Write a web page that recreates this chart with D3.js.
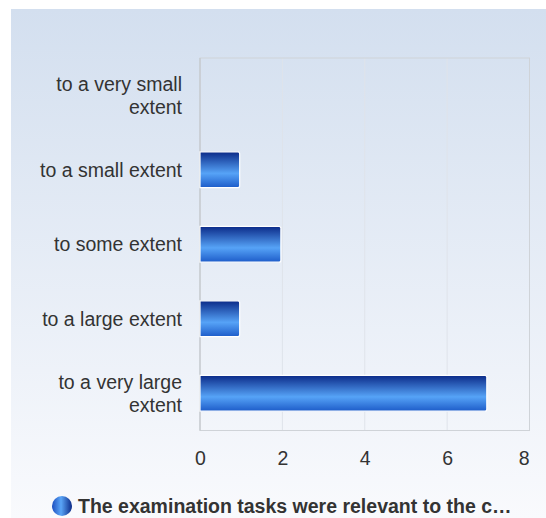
<!DOCTYPE html>
<html><head><meta charset="utf-8">
<script src="https://cdn.jsdelivr.net/npm/d3@7"></script>
<style>body{margin:0;background:#fff}svg{display:block}</style>
</head><body>
<svg id="c" width="546" height="518"></svg>
<script>
const categories = [["to a very small","extent"],["to a small extent"],["to some extent"],["to a large extent"],["to a very large","extent"]];
const values = [0,1,2,1,7];
const xTicks = [0,2,4,6,8];
const seriesName = "The examination tasks were relevant to the c\u2026";

const FONT = "Liberation Sans, Arial, sans-serif";
const svg = d3.select("#c");
const defs = svg.append("defs");
const bg = defs.append("linearGradient").attr("id","bg").attr("x1",0).attr("y1",0).attr("x2",0).attr("y2",1);
bg.append("stop").attr("offset","0").attr("stop-color","#d3dfef");
bg.append("stop").attr("offset","1").attr("stop-color","#f9fafd");
const bar = defs.append("linearGradient").attr("id","bar").attr("x1",0).attr("y1",0).attr("x2",0).attr("y2",1);
bar.append("stop").attr("offset","0").attr("stop-color","#0b2a88");
bar.append("stop").attr("offset","0.6").attr("stop-color","#56a3f7");
bar.append("stop").attr("offset","1").attr("stop-color","#1d5cc9");
const leg = defs.append("linearGradient").attr("id","leg").attr("x1",0).attr("y1",0).attr("x2",1).attr("y2",0);
leg.append("stop").attr("offset","0").attr("stop-color","#1d4fc0");
leg.append("stop").attr("offset","0.45").attr("stop-color","#5aa5f7");
leg.append("stop").attr("offset","1").attr("stop-color","#0b2a88");

svg.append("rect").attr("x",11).attr("y",9).attr("width",535).attr("height",509).attr("fill","url(#bg)");

const L=200,R=529.5,T=58,B=430.5;
const x = d3.scaleLinear().domain([0,8]).range([L,R]);
const y = d3.scaleBand().domain(d3.range(categories.length)).range([T,B]).paddingInner(0.52).paddingOuter(0.26);

// grid
svg.append("g").selectAll("line").data(xTicks.slice(1,-1)).join("line")
  .attr("x1",d=>x(d)).attr("x2",d=>x(d)).attr("y1",T).attr("y2",B)
  .attr("stroke","#dfe3ea").attr("stroke-width",1);
svg.append("rect").attr("x",L).attr("y",T).attr("width",R-L).attr("height",B-T)
  .attr("fill","none").attr("stroke","#cfd3d8").attr("stroke-width",1);
svg.append("line").attr("x1",L).attr("x2",L).attr("y1",T).attr("y2",B).attr("stroke","#c4c8cd").attr("stroke-width",1.2);

// bars
svg.append("g").selectAll("path").data(values.map((v,i)=>({v,i})).filter(d=>d.v>0)).join("path")
  .attr("d",d=>{
    const x0=x(0),x1=x(d.v)-1.5,y0=y(d.i),h=y.bandwidth(),r=2;
    return `M${x0},${y0}H${x1-r}Q${x1},${y0} ${x1},${y0+r}V${y0+h-r}Q${x1},${y0+h} ${x1-r},${y0+h}H${x0}Z`;
  })
  .attr("fill","url(#bar)").attr("stroke","#ffffff").attr("stroke-width",1.2);

// y labels
const yl = svg.append("g").attr("font-family",FONT).attr("font-size",19.5).attr("fill","#333");
categories.forEach((lines,i)=>{
  const cy = y(i)+y.bandwidth()/2;
  const n=lines.length, lh=23;
  lines.forEach((t,j)=>{
    yl.append("text").attr("x",182).attr("y",cy+(j-(n-1)/2)*lh).attr("dy","0.35em")
      .attr("text-anchor","end").text(t);
  });
});

// x axis
const xa = svg.append("g").attr("transform",`translate(0,${B})`)
  .call(d3.axisBottom(x).tickValues(xTicks).tickSize(0).tickPadding(21).tickFormat(d3.format("d")));
xa.select(".domain").remove();
xa.selectAll("text").attr("font-family",FONT).attr("font-size",19.5).attr("fill","#333");
xa.selectAll(".tick").filter(d=>d===xTicks[xTicks.length-1]).select("text")
  .attr("text-anchor","end").attr("x",-0.5);

// legend
svg.append("circle").attr("cx",62).attr("cy",506).attr("r",10).attr("fill","url(#leg)");
svg.append("text").attr("x",78).attr("y",506).attr("dy","0.35em")
  .attr("font-family",FONT).attr("font-size",19.5).attr("font-weight","bold").attr("fill","#333")
  .text(seriesName);
</script>
</body></html>
